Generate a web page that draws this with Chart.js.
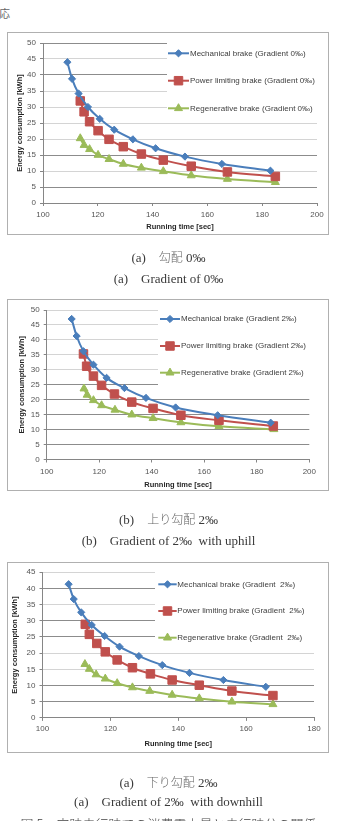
<!DOCTYPE html>
<html><head><meta charset="utf-8">
<script src="https://cdn.jsdelivr.net/npm/chart.js@4.4.0/dist/chart.umd.min.js"></script>
<style>
html,body{margin:0;padding:0;background:#fff;}
body{width:337px;height:821px;position:relative;overflow:hidden;}
.wrap{position:absolute;left:7px;width:322px;}
.wrap canvas{position:absolute;left:0;top:0;}
.frame{position:absolute;left:0;top:0;right:0;bottom:0;border:1px solid #b0b0b0;pointer-events:none;}
.cap{position:absolute;left:0;width:337px;text-align:center;font-family:"Liberation Serif","Noto Sans CJK JP",serif;font-size:13px;color:#3a3a3a;line-height:16px;white-space:pre;}
.cap .jp{font-family:"Noto Sans CJK JP",sans-serif;font-size:12px;color:#666;font-weight:300;}
.misc{position:absolute;font-family:"Noto Sans CJK JP",sans-serif;color:#666;white-space:pre;}
</style></head>
<body>
<div class="misc" style="left:-1px;top:5px;font-size:11px;">応</div>

<div class="wrap" style="top:32px;height:203px;"><canvas id="c1" width="322" height="203"></canvas><div class="frame"></div></div>
<div class="cap" style="top:249px;">(a)　<span class="jp">勾配</span> 0‰</div>
<div class="cap" style="top:271px;">(a)　Gradient of 0‰</div>

<div class="wrap" style="top:299px;height:192px;"><canvas id="c2" width="322" height="192"></canvas><div class="frame"></div></div>
<div class="cap" style="top:511px;">(b)　<span class="jp">上り勾配</span> 2‰</div>
<div class="cap" style="top:533px;">(b)　Gradient of 2‰  with uphill</div>

<div class="wrap" style="top:562px;height:191px;"><canvas id="c3" width="322" height="191"></canvas><div class="frame"></div></div>
<div class="cap" style="top:774px;">(a)　<span class="jp">下り勾配</span> 2‰</div>
<div class="cap" style="top:794px;">(a)　Gradient of 2‰  with downhill</div>
<div class="cap" style="top:816px;"><span class="jp" style="font-size:13px;color:#444;">図 5　定時走行時での消費電力量と走行時分の関係</span></div>

<script>
// ---- Chart (a): gradient 0‰ ----
const mechTime0   = [108.9, 110.6, 113.0, 116.4, 120.7, 126.0, 132.8, 141.1, 151.8, 165.3, 183.0];
const mechEnergy0 = [44.0, 38.8, 34.2, 30.0, 26.3, 22.9, 19.9, 17.1, 14.5, 12.2, 10.1];
const powerTime0   = [113.6, 115.0, 117.0, 120.1, 124.1, 129.3, 135.9, 143.9, 154.1, 167.3, 184.8];
const powerEnergy0 = [31.9, 28.5, 25.4, 22.6, 19.9, 17.6, 15.3, 13.4, 11.5, 9.7, 8.3];
const regenTime0   = [113.6, 115.0, 117.0, 120.1, 124.1, 129.3, 135.9, 143.9, 154.1, 167.3, 184.8];
const regenEnergy0 = [20.2, 18.1, 16.8, 15.0, 13.7, 12.2, 11.0, 9.9, 8.6, 7.5, 6.5];

// ---- Chart (b): gradient 2‰ uphill ----
const mechTime2   = [109.5, 111.4, 114.0, 117.8, 122.8, 129.6, 137.8, 149.1, 165.1, 185.3];
const mechEnergy2 = [47.0, 41.3, 36.2, 31.7, 27.3, 23.9, 20.6, 17.4, 14.8, 12.3];
const powerTime2   = [114.0, 115.2, 117.8, 120.9, 125.8, 132.4, 140.5, 151.1, 165.6, 186.3];
const powerEnergy2 = [35.3, 31.2, 27.9, 24.8, 21.9, 19.2, 17.1, 14.8, 13.1, 11.2];
const regenTime2   = [114.2, 115.4, 117.8, 120.9, 126.0, 132.4, 140.5, 151.1, 165.6, 186.5];
const regenEnergy2 = [23.7, 21.6, 19.8, 18.1, 16.6, 15.0, 13.8, 12.4, 11.1, 10.1];

// ---- Chart (c): gradient 2‰ downhill ----
const mechTimeD   = [107.7, 109.2, 111.4, 114.5, 118.3, 122.7, 128.4, 135.3, 143.3, 153.3, 165.8];
const mechEnergyD = [41.3, 36.7, 32.6, 28.7, 25.3, 22.0, 19.1, 16.3, 13.9, 11.7, 9.6];
const powerTimeD   = [112.6, 113.8, 116.0, 118.5, 122.0, 126.5, 131.8, 138.2, 146.2, 155.8, 167.9];
const powerEnergyD = [28.9, 25.8, 23.0, 20.4, 17.9, 15.5, 13.6, 11.7, 10.1, 8.3, 6.9];
const regenTimeD   = [112.5, 113.8, 115.8, 118.5, 122.0, 126.5, 131.6, 138.2, 146.2, 155.8, 167.9];
const regenEnergyD = [16.6, 15.1, 13.4, 12.1, 10.7, 9.4, 8.3, 7.1, 6.0, 5.0, 4.2];

const labels0 = ['Mechanical brake (Gradient 0‰)', 'Power limiting brake (Gradient 0‰)', 'Regenerative brake (Gradient 0‰)'];
const labels2 = ['Mechanical brake (Gradient 2‰)', 'Power limiting brake (Gradient 2‰)', 'Regenerative brake (Gradient 2‰)'];
const labelsD = ['Mechanical brake (Gradient  2‰)', 'Power limiting brake (Gradient  2‰)', 'Regenerative brake (Gradient  2‰)'];

const xTitle = 'Running time [sec]';
const yTitle = 'Energy consumption [kWh]';

const BLUE = '#4A7EBB', RED = '#C0504D', GREEN = '#9BBB59';
const FONT = '"Liberation Sans", Arial, sans-serif';

function ds(label, xs, ys, color, style, r) {
  return {
    label, data: xs.map((x, i) => ({x, y: ys[i]})),
    borderColor: color, backgroundColor: color, borderWidth: 2,
    pointStyle: style, pointRadius: r, pointHoverRadius: r, pointBorderWidth: 1,
    pointBackgroundColor: color, pointBorderColor: color,
    cubicInterpolationMode: 'monotone', clip: false
  };
}

const inLegend = {
  id: 'inLegend',
  beforeDatasetsDraw(chart, args, o) {
    const c = chart.ctx; c.save();
    c.fillStyle = '#fff'; c.fillRect(o.box[0], o.box[1], o.box[2], o.box[3]);
    c.restore();
  },
  afterDraw(chart, args, o) {
    const c = chart.ctx; c.save();
    chart.data.datasets.forEach((d, i) => {
      const y = o.ys[i];
      c.strokeStyle = d.borderColor; c.lineWidth = 2;
      c.beginPath(); c.moveTo(o.x0, y); c.lineTo(o.x1, y); c.stroke();
      c.fillStyle = d.pointBackgroundColor; c.strokeStyle = d.pointBorderColor; c.lineWidth = 1;
      Chart.helpers.drawPoint(c, {pointStyle: d.pointStyle, radius: d.pointRadius, borderWidth: 1, rotation: 0}, (o.x0 + o.x1) / 2, y);
      c.fillStyle = '#404040'; c.font = '8px ' + FONT; c.textBaseline = 'middle'; c.textAlign = 'left';
      c.fillText(d.label, o.tx, y);
    });
    c.restore();
  }
};

function makeChart(id, cfg) {
  return new Chart(document.getElementById(id), {
    type: 'line',
    data: { datasets: [
      ds(cfg.labels[0], cfg.mt, cfg.me, BLUE, 'rectRot', 3.6),
      ds(cfg.labels[1], cfg.pt, cfg.pe, RED, 'rect', 6),
      ds(cfg.labels[2], cfg.rt, cfg.re, GREEN, 'triangle', 4.6)
    ]},
    options: {
      responsive: false, animation: false, devicePixelRatio: 1,
      layout: { padding: { left: 0, right: cfg.padR, top: cfg.padT, bottom: 0 } },
      plugins: { legend: { display: false }, tooltip: { enabled: false }, inLegend: cfg.legend },
      scales: {
        x: {
          type: 'linear', min: cfg.xMin, max: cfg.xMax,
          ticks: { stepSize: 20, font: { family: FONT, size: 8 }, color: '#555', padding: cfg.xTickPad, maxRotation: 0, autoSkip: false },
          grid: { drawOnChartArea: false, tickLength: 3, color: '#868686' },
          border: { color: '#868686' },
          title: { display: true, text: xTitle, font: { family: FONT, size: 7.5, weight: 'bold' }, color: '#262626', padding: { top: 0, bottom: cfg.xTitlePad } },
          afterFit(s) { s.height = cfg.xH; }
        },
        y: {
          type: 'linear', min: 0, max: cfg.yMax,
          ticks: { stepSize: 5, font: { family: FONT, size: 8 }, color: '#555', padding: 4 },
          grid: { color: (c) => cfg.strong.includes(c.tick && c.tick.value) ? '#8c8c8c' : '#d4d4d4', tickColor: '#868686', tickLength: 3 },
          border: { color: '#868686' },
          title: { display: true, text: yTitle, font: { family: FONT, size: 7.5, weight: 'bold' }, color: '#262626', padding: { top: cfg.yTitlePad, bottom: 0 } },
          afterFit(s) { s.width = cfg.yW; }
        }
      }
    },
    plugins: [inLegend]
  });
}

makeChart('c1', {
  labels: labels0, mt: mechTime0, me: mechEnergy0, pt: powerTime0, pe: powerEnergy0, rt: regenTime0, re: regenEnergy0,
  xMin: 100, xMax: 200, yMax: 50, padR: 12, padT: 11, yW: 36, xH: 32, xTitlePad: 3.5, yTitlePad: 8.5, xTickPad: 4,
  strong: [50, 40, 15, 5],
  legend: { box: [160, 6, 160, 82], ys: [21.3, 48.7, 76.3], x0: 161, x1: 182, tx: 183 }
});
makeChart('c2', {
  labels: labels2, mt: mechTime2, me: mechEnergy2, pt: powerTime2, pe: powerEnergy2, rt: regenTime2, re: regenEnergy2,
  xMin: 100, xMax: 200, yMax: 50, padR: 19.7, padT: 11, yW: 39.7, xH: 31.5, xTitlePad: 1.5, yTitlePad: 10.2, xTickPad: 4,
  strong: [25, 20, 15, 10, 5],
  legend: { box: [151, 6, 169, 85], ys: [20, 47, 73.7], x0: 153, x1: 173, tx: 174 }
});
makeChart('c3', {
  labels: labelsD, mt: mechTimeD, me: mechEnergyD, pt: powerTimeD, pe: powerEnergyD, rt: regenTimeD, re: regenEnergyD,
  xMin: 100, xMax: 180, yMax: 45, padR: 15, padT: 10.2, yW: 35.5, xH: 35.1, xTitlePad: 4.5, yTitlePad: 3.5, xTickPad: 3,
  strong: [40, 30, 25, 10, 5],
  legend: { box: [148, 4, 172, 80], ys: [22.3, 49, 75.7], x0: 151.3, x1: 169.7, tx: 170.3 }
});
</script>
</body></html>
